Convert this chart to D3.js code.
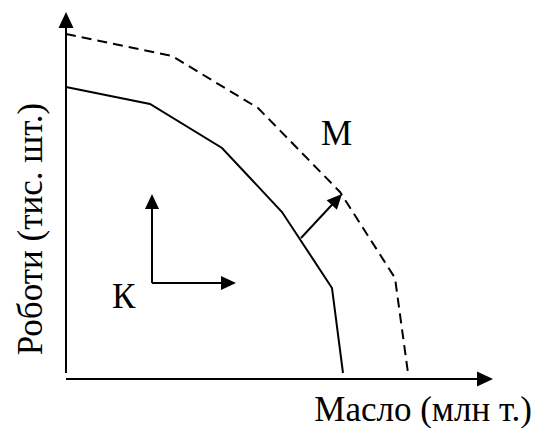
<!DOCTYPE html>
<html>
<head>
<meta charset="utf-8">
<script src="https://cdn.jsdelivr.net/npm/d3@7"></script>
</head>
<body style="margin:0">
<div class="vis"></div>
<script>
const w = 536;
const h = 428;

// curves (x = oil, y = robots), in chart units
const oldX = [0, 84, 156, 216, 266, 277];
const oldY = [292, 275, 231, 167, 91, 6];
const newX = [0, 106, 192, 274, 329, 342];
const newY = [345, 323, 271, 187, 101, 6];

// shift arrow (solid -> dashed) and the K arrows
const shiftFrom = [235, 141];
const shiftTo = [276, 185];
const kOrigin = [86, 96];
const kUp = [86, 185];
const kRight = [170, 96];

const xLabel = "Масло (млн т.)";
const yLabel = "Роботи (тис. шт.)";
const mLabel = "М";
const kLabel = "К";

const x = d3.scaleLinear().domain([0, 427]).range([66, 493]);
const y = d3.scaleLinear().domain([0, 367]).range([379, 12]);

const svg = d3.select(".vis")
  .append("svg")
  .attr("width", w)
  .attr("height", h);

// curves
const line = d3.line()
  .x((d) => x(d[0]))
  .y((d) => y(d[1]));

svg.append("path")
  .datum(oldX.map((d, i) => [d, oldY[i]]))
  .attr("d", line)
  .attr("fill", "none")
  .attr("stroke", "#000")
  .attr("stroke-width", 2);

svg.append("path")
  .datum(newX.map((d, i) => [d, newY[i]]))
  .attr("d", line)
  .attr("fill", "none")
  .attr("stroke", "#000")
  .attr("stroke-width", 2)
  .attr("stroke-dasharray", "10,6");

// axes + arrows, heads drawn as triangles at the tip
const arrows = [
  [[0, 6], [0, 367], 16, 7.5],
  [[0, 0], [427, 0], 16, 7.5],
  [shiftFrom, shiftTo, 15, 7],
  [kOrigin, kUp, 15, 7],
  [kOrigin, kRight, 15, 7]
];

arrows.forEach(([a, b, len, half]) => {
  const x1 = x(a[0]), y1 = y(a[1]), x2 = x(b[0]), y2 = y(b[1]);
  const ang = Math.atan2(y2 - y1, x2 - x1);
  const bx = x2 - len * Math.cos(ang), by = y2 - len * Math.sin(ang);
  svg.append("line")
    .attr("x1", x1).attr("y1", y1)
    .attr("x2", bx + 2 * Math.cos(ang)).attr("y2", by + 2 * Math.sin(ang))
    .attr("stroke", "#000")
    .attr("stroke-width", 2);
  const px = -Math.sin(ang) * half, py = Math.cos(ang) * half;
  svg.append("path")
    .attr("d", `M${x2},${y2}L${bx + px},${by + py}L${bx - px},${by - py}Z`)
    .attr("fill", "#000");
});

// labels: 30px font scaled up to ~35px
const k = 35 / 30;
const labels = [
  { t: mLabel, x: x(255), y: y(234), anchor: "start", rot: 0 },
  { t: kLabel, x: x(46), y: y(71), anchor: "start", rot: 0 },
  { t: xLabel, x: 532, y: 421, anchor: "end", rot: 0 },
  { t: yLabel, x: 42, y: 229, anchor: "middle", rot: -90 }
];

svg.selectAll("text")
  .data(labels)
  .enter()
  .append("text")
  .attr("transform", (d) => `translate(${d.x},${d.y}) rotate(${d.rot}) scale(${k})`)
  .attr("text-anchor", (d) => d.anchor)
  .attr("font-size", 30)
  .style("font-family", '"Liberation Serif"')
  .text((d) => d.t);
</script>
</body>
</html>
